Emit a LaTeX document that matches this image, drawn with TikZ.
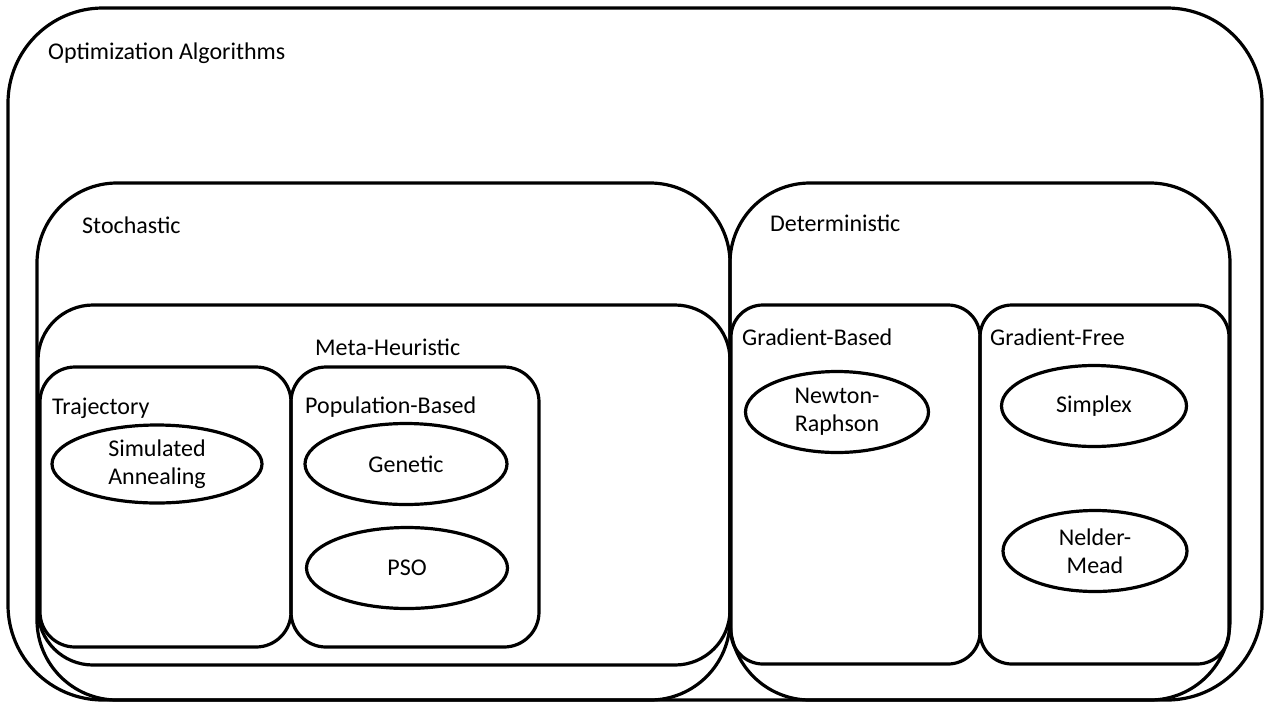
\documentclass[tikz,border=0pt]{standalone}
\usepackage{fontspec}
\setmainfont{Carlito}
\usetikzlibrary{shapes.geometric}
\tikzset{region/.style={line width=3.2pt,rounded corners=#1},region/.default=30pt}
\tikzset{method/.style={draw,ellipse,line width=3.2pt,minimum height=81pt,align=center,inner sep=0pt}}
\tikzset{heading/.style={right,inner sep=0pt}}

\begin{document}
\begin{tikzpicture}[x=1pt,y=-1pt,font=\fontsize{24}{28}\selectfont]
    \useasboundingbox (0,0) rectangle (1265,702);

    % outer frame
    \draw[region=95pt] (8,8) rectangle (1262,700);
    % stochastic / deterministic
    \draw[region=80pt] (37,183) rectangle (730,700);
    \draw[region=80pt] (730,183) rectangle (1230,700);
    % sub classes
    \draw[region=55pt] (38,305) rectangle (730,665);
    \draw[region=35pt] (40,367) rectangle (291,647);
    \draw[region=35pt] (291,367) rectangle (539,647);
    \draw[region=32pt] (731,305) rectangle (980,664);
    \draw[region=32pt] (980,305) rectangle (1229,664);

    \node[heading] (optim) at (48,53) {Optimization Algorithms};
    \node[heading] (stoch) at (82,225) {Stochastic};
    \node[heading] (determ) at (770,223) {Deterministic};
    \node[heading] (meta) at (315,347) {Meta-Heuristic};
    \node[heading] (traj) at (52,408) {Trajectory};
    \node[heading] (popul) at (305,407) {Population-Based};
    \node[heading] (gradb) at (742,337) {Gradient-Based};
    \node[heading] (gradf) at (990,337) {Gradient-Free};

    \node[method,minimum width=210pt,minimum height=78pt] (anneal) at (157,464) {Simulated\\Annealing};
    \node[method,minimum width=202pt] (genetic) at (406,464) {Genetic};
    \node[method,minimum width=201pt] (pso) at (407,568) {PSO};
    \node[method,minimum width=183pt] (newton) at (837,412) {Newton-\\Raphson};
    \node[method,minimum width=185pt] (simplex) at (1094,406) {Simplex};
    \node[method,minimum width=184pt] (nelder) at (1095,551) {Nelder-\\Mead};
\end{tikzpicture}
\end{document}
